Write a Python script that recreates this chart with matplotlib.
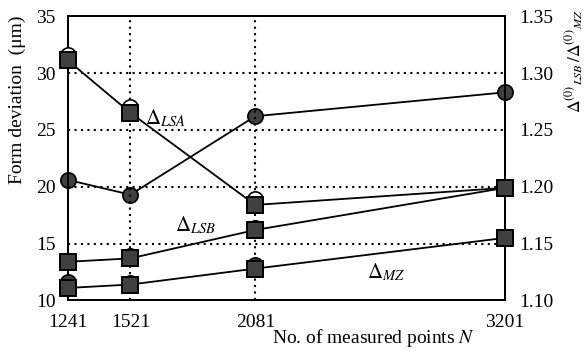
import numpy as np
import matplotlib
matplotlib.use('Agg')
import matplotlib.pyplot as plt

plt.rcParams['font.family'] = ['Liberation Serif', 'DejaVu Serif']
plt.rcParams['mathtext.fontset'] = 'stix'
plt.rcParams['font.size'] = 14

# data
n_points = [1241, 1521, 2081, 3201]
lsa = [31.1, 26.5, 18.4, 19.9]
lsb = [13.4, 13.7, 16.2, 19.9]
mz = [11.1, 11.4, 12.8, 15.5]
ratio = [1.206, 1.193, 1.262, 1.283]
# circles partly hidden behind the squares
lsa_c = [31.6, 27.0, 18.9]
lsb_c = [13.4, 13.9, 16.4]
mz_c = [11.6, 11.5, 13.1]

fig = plt.figure(figsize=(5.88, 3.51), dpi=100)
ax = fig.add_axes([0.1156, 0.144, 0.7434, 0.81])
ax2 = ax.twinx()

dark = '#404040'
ms = 11

# hidden circles first
ax.plot(n_points[:3], lsa_c, 'o', ms=ms, mfc='white', mec='black', mew=1.2, clip_on=False, zorder=3)
ax.plot(n_points[:3], lsb_c, 'o', ms=ms, mfc=dark, mec='black', mew=1.2, clip_on=False, zorder=3)
ax.plot(n_points[:3], mz_c, 'o', ms=ms, mfc=dark, mec='black', mew=1.2, clip_on=False, zorder=3)

for vals in (lsa, lsb, mz):
    ax.plot(n_points, vals, '-s', color='black', lw=1.3, ms=ms,
            mfc=dark, mec='black', mew=1.4, clip_on=False, zorder=4)

ax2.plot(n_points, ratio, '-o', color='black', lw=1.3, ms=ms,
         mfc=dark, mec='black', mew=1.2, clip_on=False, zorder=4)

ax.set_xlim(1241, 3201)
ax.set_ylim(10, 35)
ax2.set_ylim(1.10, 1.35)
ax.set_xticks(n_points)
ax.set_yticks([10, 15, 20, 25, 30, 35])
ax2.set_yticks([1.10, 1.15, 1.20, 1.25, 1.30, 1.35])
ax2.set_yticklabels(['%.2f' % v for v in [1.10, 1.15, 1.20, 1.25, 1.30, 1.35]])

ax.tick_params(axis='y', length=0, labelsize=14, pad=9)
ax.tick_params(axis='x', length=0, labelsize=14, pad=10)
ax2.tick_params(axis='y', length=0, labelsize=14, pad=10)
for a in (ax, ax2):
    for s in a.spines.values():
        s.set_linewidth(1.3)

# dotted grid
for y in [15, 20, 25, 30]:
    ax.axhline(y, color='black', lw=1.5, ls=(0, (1, 2.1)), zorder=1)
for x in [1521, 2081]:
    ax.axvline(x, color='black', lw=1.5, ls=(0, (1, 2.1)), zorder=1)

ax.set_ylabel('Form deviation  (μm)', fontsize=14)
ax.yaxis.set_label_coords(-0.096, 0.705)
ax2.set_ylabel(r'$\Delta^{(0)}{}_{LSB}\,/\Delta^{(0)}{}_{MZ}$', fontsize=12.5)
ax2.yaxis.set_label_coords(1.134, 0.84)
ax.set_xlabel(r'No. of measured points $N$', fontsize=14)
ax.xaxis.set_label_coords(0.70, -0.093)

ax.text(1585, 26.0, r'$\Delta_{LSA}$', fontsize=15, va='center', ha='left')
ax.text(1720, 16.6, r'$\Delta_{LSB}$', fontsize=15, va='center', ha='left')
ax.text(2580, 12.5, r'$\Delta_{MZ}$', fontsize=15, va='center', ha='left')

ax.set_zorder(ax2.get_zorder() + 1)
ax.patch.set_visible(False)

fig.savefig('out.png', dpi=100)
